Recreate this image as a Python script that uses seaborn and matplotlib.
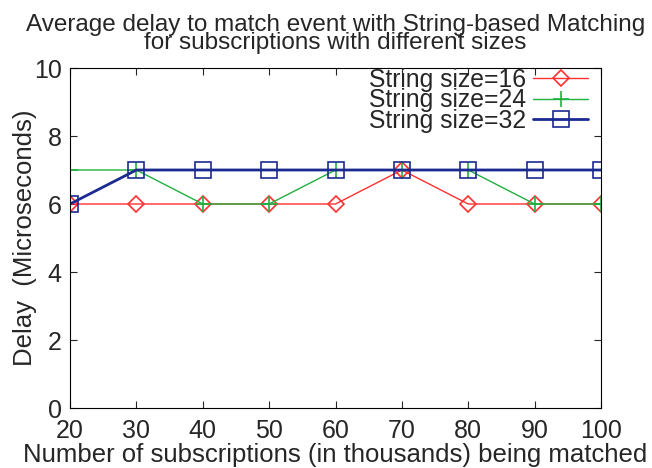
import matplotlib
matplotlib.use("Agg")
from matplotlib import pyplot as plt
import pandas as pd
import seaborn as sns

subs = [20, 30, 40, 50, 60, 70, 80, 90, 100]
size16 = [6, 6, 6, 6, 6, 7, 6, 6, 6]
size24 = [7, 7, 6, 6, 7, 7, 7, 6, 6]
size32 = [6, 7, 7, 7, 7, 7, 7, 7, 7]
labels = ["String size=16", "String size=24", "String size=32"]

sns.set_style("ticks")
plt.rcParams['font.family'] = ['Liberation Sans', 'DejaVu Sans']

df = pd.DataFrame({'subs': subs * 3,
                   'delay': size16 + size24 + size32,
                   'serie': [labels[0]] * 9 + [labels[1]] * 9 + [labels[2]] * 9})

fig = plt.figure(figsize=(6.52, 4.68), dpi=100)
ax = fig.add_axes([70 / 652, 60 / 468, 531 / 652, 340 / 468])

couleurs = ['#ff3030', '#20b040', '#1a2a90']
marqueurs = ['D', '+', 's']
tailles = [8, 12, 12]
largeurs = [1, 1, 2]
for i, lab in enumerate(labels):
    d = df[df['serie'] == lab]
    sns.lineplot(x=d['subs'], y=d['delay'], ax=ax, color=couleurs[i],
                 marker=marqueurs[i], markersize=tailles[i],
                 markerfacecolor='none', markeredgecolor=couleurs[i],
                 markeredgewidth=1.2, linewidth=largeurs[i], label=lab)

ax.set_xlim(20, 100)
ax.set_ylim(0, 10)
ax.set_xticks(subs)
ax.set_yticks([0, 2, 4, 6, 8, 10])
ax.tick_params(direction='in', top=True, right=True, labelsize=18, length=5)
ax.tick_params(axis='x', pad=8)
ax.tick_params(axis='y', pad=6)
for s in ax.spines.values():
    s.set_visible(True)
    s.set_color('black')
ax.set_xlabel("Number of subscriptions (in thousands) being matched", fontsize=18.5,
              labelpad=0)
ax.set_ylabel("Delay  (Microseconds)", fontsize=18.5, labelpad=-2)
ax.set_title("Average delay to match event with String-based Matching\n"
             "for subscriptions with different sizes", fontsize=17.5,
             linespacing=0.75, pad=14)
ax.legend(loc='upper right', bbox_to_anchor=(0.975, 1.0), frameon=False,
          fontsize=17.8, markerfirst=False, labelspacing=-0.15,
          handlelength=2.2, borderaxespad=0.0, handletextpad=0.3,
          borderpad=0.0)

plt.savefig("out.png", dpi=100)
